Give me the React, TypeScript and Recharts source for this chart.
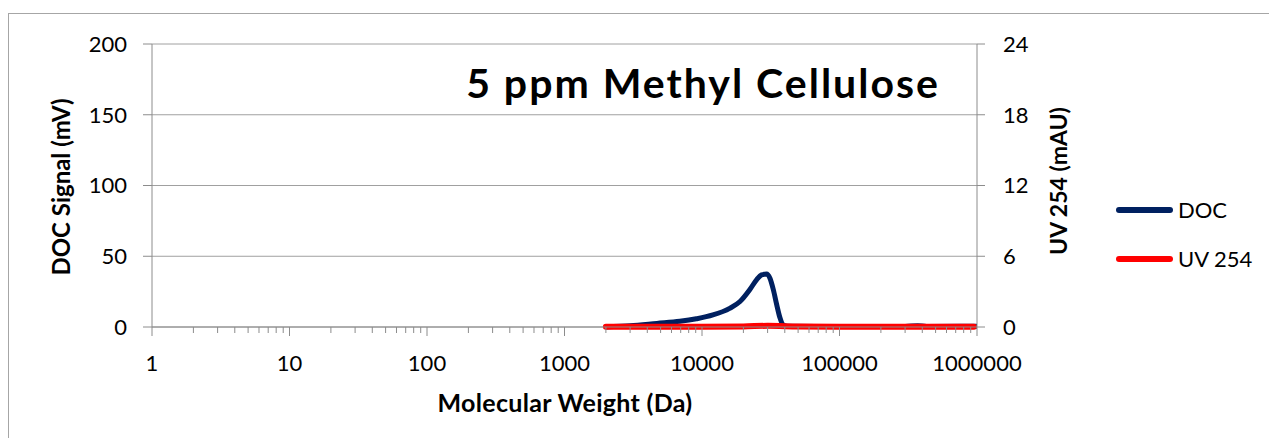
import { LineChart, Line, XAxis, YAxis, CartesianGrid, Legend, Label } from "recharts";

// molecular weight (Da) vs DOC signal (mV)
const docMw = [2000, 3000, 4700, 6900, 9100, 12000, 15900, 18900, 22300, 25000, 27100, 29500, 31200, 33000, 34900, 36900, 38900, 42000, 100000, 300000, 370000, 430000, 1000000];
const docSignal = [0, 0.8, 2.5, 4, 5.8, 8.5, 13.2, 18, 26.5, 33.5, 36.8, 37.5, 34.5, 26.5, 16, 6.5, 1.5, 0.5, 0.4, 0.4, 0.9, 0.4, 0.6];

// molecular weight (Da) vs UV 254 (mAU)
const uvMw = [2000, 5000, 10000, 20000, 30000, 50000, 100000, 300000, 950000];
const uvSignal = [0.02, 0.03, 0.03, 0.05, 0.1, 0.05, 0.03, 0.03, 0.03];

const docTicks = [0, 50, 100, 150, 200];
const uvTicks = [0, 6, 12, 18, 24];
const decades = [1, 10, 100, 1000, 10000, 100000];

const xTicks: number[] = [];
decades.forEach((d) => {
  for (let m = 1; m < 10; m++) xTicks.push(d * m);
});
xTicks.push(1000000);

const docData = docMw.map((mw, i) => ({ mw, doc: docSignal[i] }));
const uvData = uvMw.map((mw, i) => ({ mw, uv: uvSignal[i] }));

const axisColor = "#8c8c8c";
const font = "Lato, 'Open Sans', sans-serif";

const XTick = (props: any) => {
  const { x, y, payload } = props;
  const v = payload.value;
  const major = Math.abs(Math.log10(v) - Math.round(Math.log10(v))) < 1e-9;
  return (
    <g>
      <line x1={x} x2={x} y1={y} y2={y + (major ? 9 : 6)} stroke={axisColor} />
      {major && (
        <text x={x} y={y + 44} textAnchor="middle" fontSize={22} fill="#000" fontFamily={font}>
          {v}
        </text>
      )}
    </g>
  );
};

const LegendBox = (props: any) => {
  const { payload } = props;
  return (
    <div style={{ fontFamily: font, fontSize: 22, color: "#000" }}>
      {payload.map((e: any) => (
        <div key={e.value} style={{ display: "flex", alignItems: "center", height: 49 }}>
          <div style={{ width: 57, height: 6, background: e.color, borderRadius: 3, marginRight: 5 }} />
          <span>{e.value}</span>
        </div>
      ))}
    </div>
  );
};

export default function App() {
  return (
    <div style={{ width: 1261, height: 430, overflow: "hidden", position: "relative", fontFamily: font }}>
      <div
        style={{
          position: "absolute",
          left: 0,
          top: 5,
          width: 1400,
          height: 500,
          border: "1px solid #a6a6a6",
          boxSizing: "border-box",
          background: "#fff",
        }}
      >
        <div
          style={{
            position: "absolute",
            left: 694,
            top: 81,
            transform: "translate(-50%, -80%)",
            fontSize: 41,
            fontWeight: 700,
            letterSpacing: 2,
            whiteSpace: "nowrap",
            color: "#000",
            lineHeight: 1,
          }}
        >
          5 ppm Methyl Cellulose
        </div>
        <LineChart width={1268} height={420} margin={{ top: 30, right: 220, bottom: 67, left: 63 }}>
          <CartesianGrid yAxisId="l" vertical={false} stroke="#a0a0a0" />
          <XAxis
            dataKey="mw"
            type="number"
            scale="log"
            domain={[1, 1000000]}
            ticks={xTicks}
            interval={0}
            allowDataOverflow
            height={40}
            tickSize={0}
            tickMargin={0}
            tickLine={false}
            tick={<XTick />}
            axisLine={{ stroke: axisColor }}
          >
            <Label
              content={() => (
                <text x={556} y={398} textAnchor="middle" fontSize={25} fontWeight={700} letterSpacing={0.3} fontFamily={font} fill="#000">
                  Molecular Weight (Da)
                </text>
              )}
            />
          </XAxis>
          <YAxis
            yAxisId="l"
            domain={[0, 200]}
            ticks={docTicks}
            width={80}
            tickSize={9}
            tickMargin={16}
            tick={{ fontSize: 22, fill: "#000", fontFamily: font }}
            tickLine={{ stroke: axisColor }}
            axisLine={{ stroke: axisColor }}
          >
            <Label
              content={() => (
                <text
                  x={51}
                  y={173}
                  transform="rotate(-90 51 173)"
                  textAnchor="middle"
                  dominantBaseline="central"
                  fontSize={24}
                  fontWeight={700}
                  fontFamily={font}
                  fill="#000"
                >
                  DOC Signal (mV)
                </text>
              )}
            />
          </YAxis>
          <YAxis
            yAxisId="r"
            orientation="right"
            domain={[0, 24]}
            ticks={uvTicks}
            width={80}
            tickSize={8}
            tickMargin={18}
            tick={{ fontSize: 22, fill: "#000", fontFamily: font }}
            tickLine={{ stroke: axisColor }}
            axisLine={{ stroke: axisColor }}
          >
            <Label
              content={() => (
                <text
                  x={1049}
                  y={167}
                  transform="rotate(-90 1049 167)"
                  textAnchor="middle"
                  dominantBaseline="central"
                  fontSize={23}
                  fontWeight={700}
                  fontFamily={font}
                  fill="#000"
                >
                  UV 254 (mAU)
                </text>
              )}
            />
          </YAxis>
          <Legend
            layout="horizontal"
            verticalAlign="middle"
            align="center"
            content={<LegendBox />}
            wrapperStyle={{ left: 1107, top: 171, width: 150 }}
          />
          <Line
            yAxisId="l"
            data={docData}
            dataKey="doc"
            name="DOC"
            type="monotone"
            stroke="#002060"
            strokeWidth={5}
            strokeLinecap="round"
            dot={false}
            isAnimationActive={false}
          />
          <Line
            yAxisId="r"
            data={uvData}
            dataKey="uv"
            name="UV 254"
            type="monotone"
            stroke="#ff0000"
            strokeWidth={6}
            strokeLinecap="round"
            dot={false}
            isAnimationActive={false}
          />
        </LineChart>
      </div>
    </div>
  );
}
